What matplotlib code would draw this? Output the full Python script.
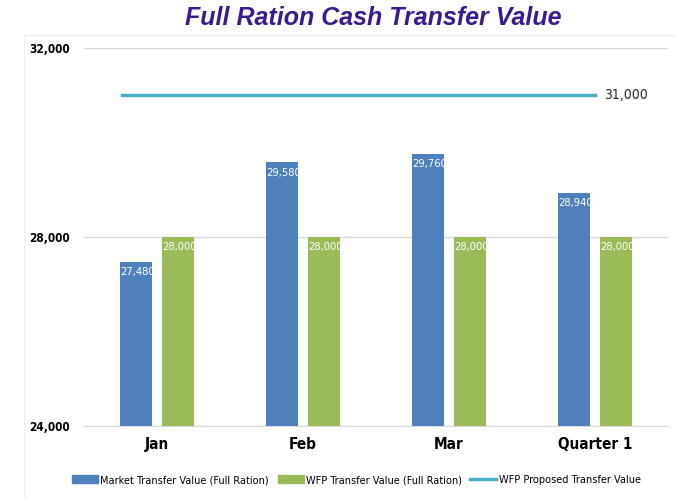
import numpy as np
import matplotlib.pyplot as plt

categories = ["Jan", "Feb", "Mar", "Quarter 1"]
market_values = [27480, 29580, 29760, 28940]
wfp_values = [28000, 28000, 28000, 28000]
proposed_value = 31000
yticks = [24000, 28000, 32000]

blue = "#4f81bd"
green = "#9bbb59"
teal = "#4bacc6"
fam = "DejaVu Sans"
st = "condensed"

fig = plt.figure(figsize=(6.75, 4.98), dpi=100)

# faint chart-area border
fig.patches.append(plt.Rectangle((24 / 675, -0.01), 1.0, 1 - 35 / 498 + 0.01,
                                 transform=fig.transFigure, fill=False,
                                 edgecolor="#f0f0f0", lw=1))

ax = fig.add_axes([84 / 675, 0.1446, 584 / 675, 0.759])

x = np.arange(len(categories))
w = 0.22
off = 0.144
ax.bar(x - off, market_values, width=w, color=blue, zorder=2)
ax.bar(x + off, wfp_values, width=w, color=green, zorder=2)

# data labels, white, just inside the top of each bar
for xi, v in zip(x - off, market_values):
    ax.text(xi + 0.01, v - 110, f"{v:,}", color="white", ha="center", va="top",
            fontsize=8, fontfamily=fam, fontstretch=st, zorder=3)
for xi, v in zip(x + off, wfp_values):
    ax.text(xi + 0.01, v - 110, f"{v:,}", color="white", ha="center", va="top",
            fontsize=8, fontfamily=fam, fontstretch=st, zorder=3)

# proposed value line across the categories
line_x = np.linspace(-0.24, 3.0, len(categories))
ax.plot(line_x, [proposed_value] * len(categories), color=teal, lw=2.5, zorder=3)
ax.text(3.06, proposed_value, f"{proposed_value:,}", ha="left", va="center",
        fontsize=10, fontfamily=fam, fontstretch=st, color="#262626")

ax.set_ylim(24000, 32000)
ax.set_xlim(-0.5, 3.5)
ax.set_yticks(yticks)
ax.set_yticklabels([f"{t:,}" for t in yticks], fontsize=8.5, fontweight="bold",
                   fontfamily=fam, fontstretch=st)
ax.set_xticks(x)
ax.set_xticklabels(categories, fontsize=11, fontweight="bold",
                   fontfamily=fam, fontstretch=st)
ax.tick_params(length=0)
ax.tick_params(axis="x", pad=8)
ax.tick_params(axis="y", pad=10)
ax.grid(axis="y", color="#d9d9d9", lw=1, zorder=0)
for s in ax.spines.values():
    s.set_visible(False)
ax.spines["bottom"].set_visible(True)
ax.spines["bottom"].set_color("#d9d9d9")

handles = [
    plt.Rectangle((0, 0), 1, 1, color=blue),
    plt.Rectangle((0, 0), 1, 1, color=green),
    plt.Line2D([0], [0], color=teal, lw=2.5),
]
labels = ["Market Transfer Value (Full Ration)", "WFP Transfer Value (Full Ration)",
          "WFP Proposed Transfer Value"]
fig.legend(handles, labels, loc="center", bbox_to_anchor=(0.528, 0.036), ncol=3,
           frameon=False, prop={"family": fam, "stretch": st, "size": 7.8},
           handlelength=2.4, handleheight=0.8, columnspacing=0.8, handletextpad=0.2)

fig.text(0.553, 0.963, "Full Ration Cash Transfer Value", ha="center", va="center",
         fontsize=18, fontweight="bold", style="italic", color="#3a1a8c",
         family=["Liberation Sans", "DejaVu Sans"])

fig.savefig("out.png", dpi=100)
